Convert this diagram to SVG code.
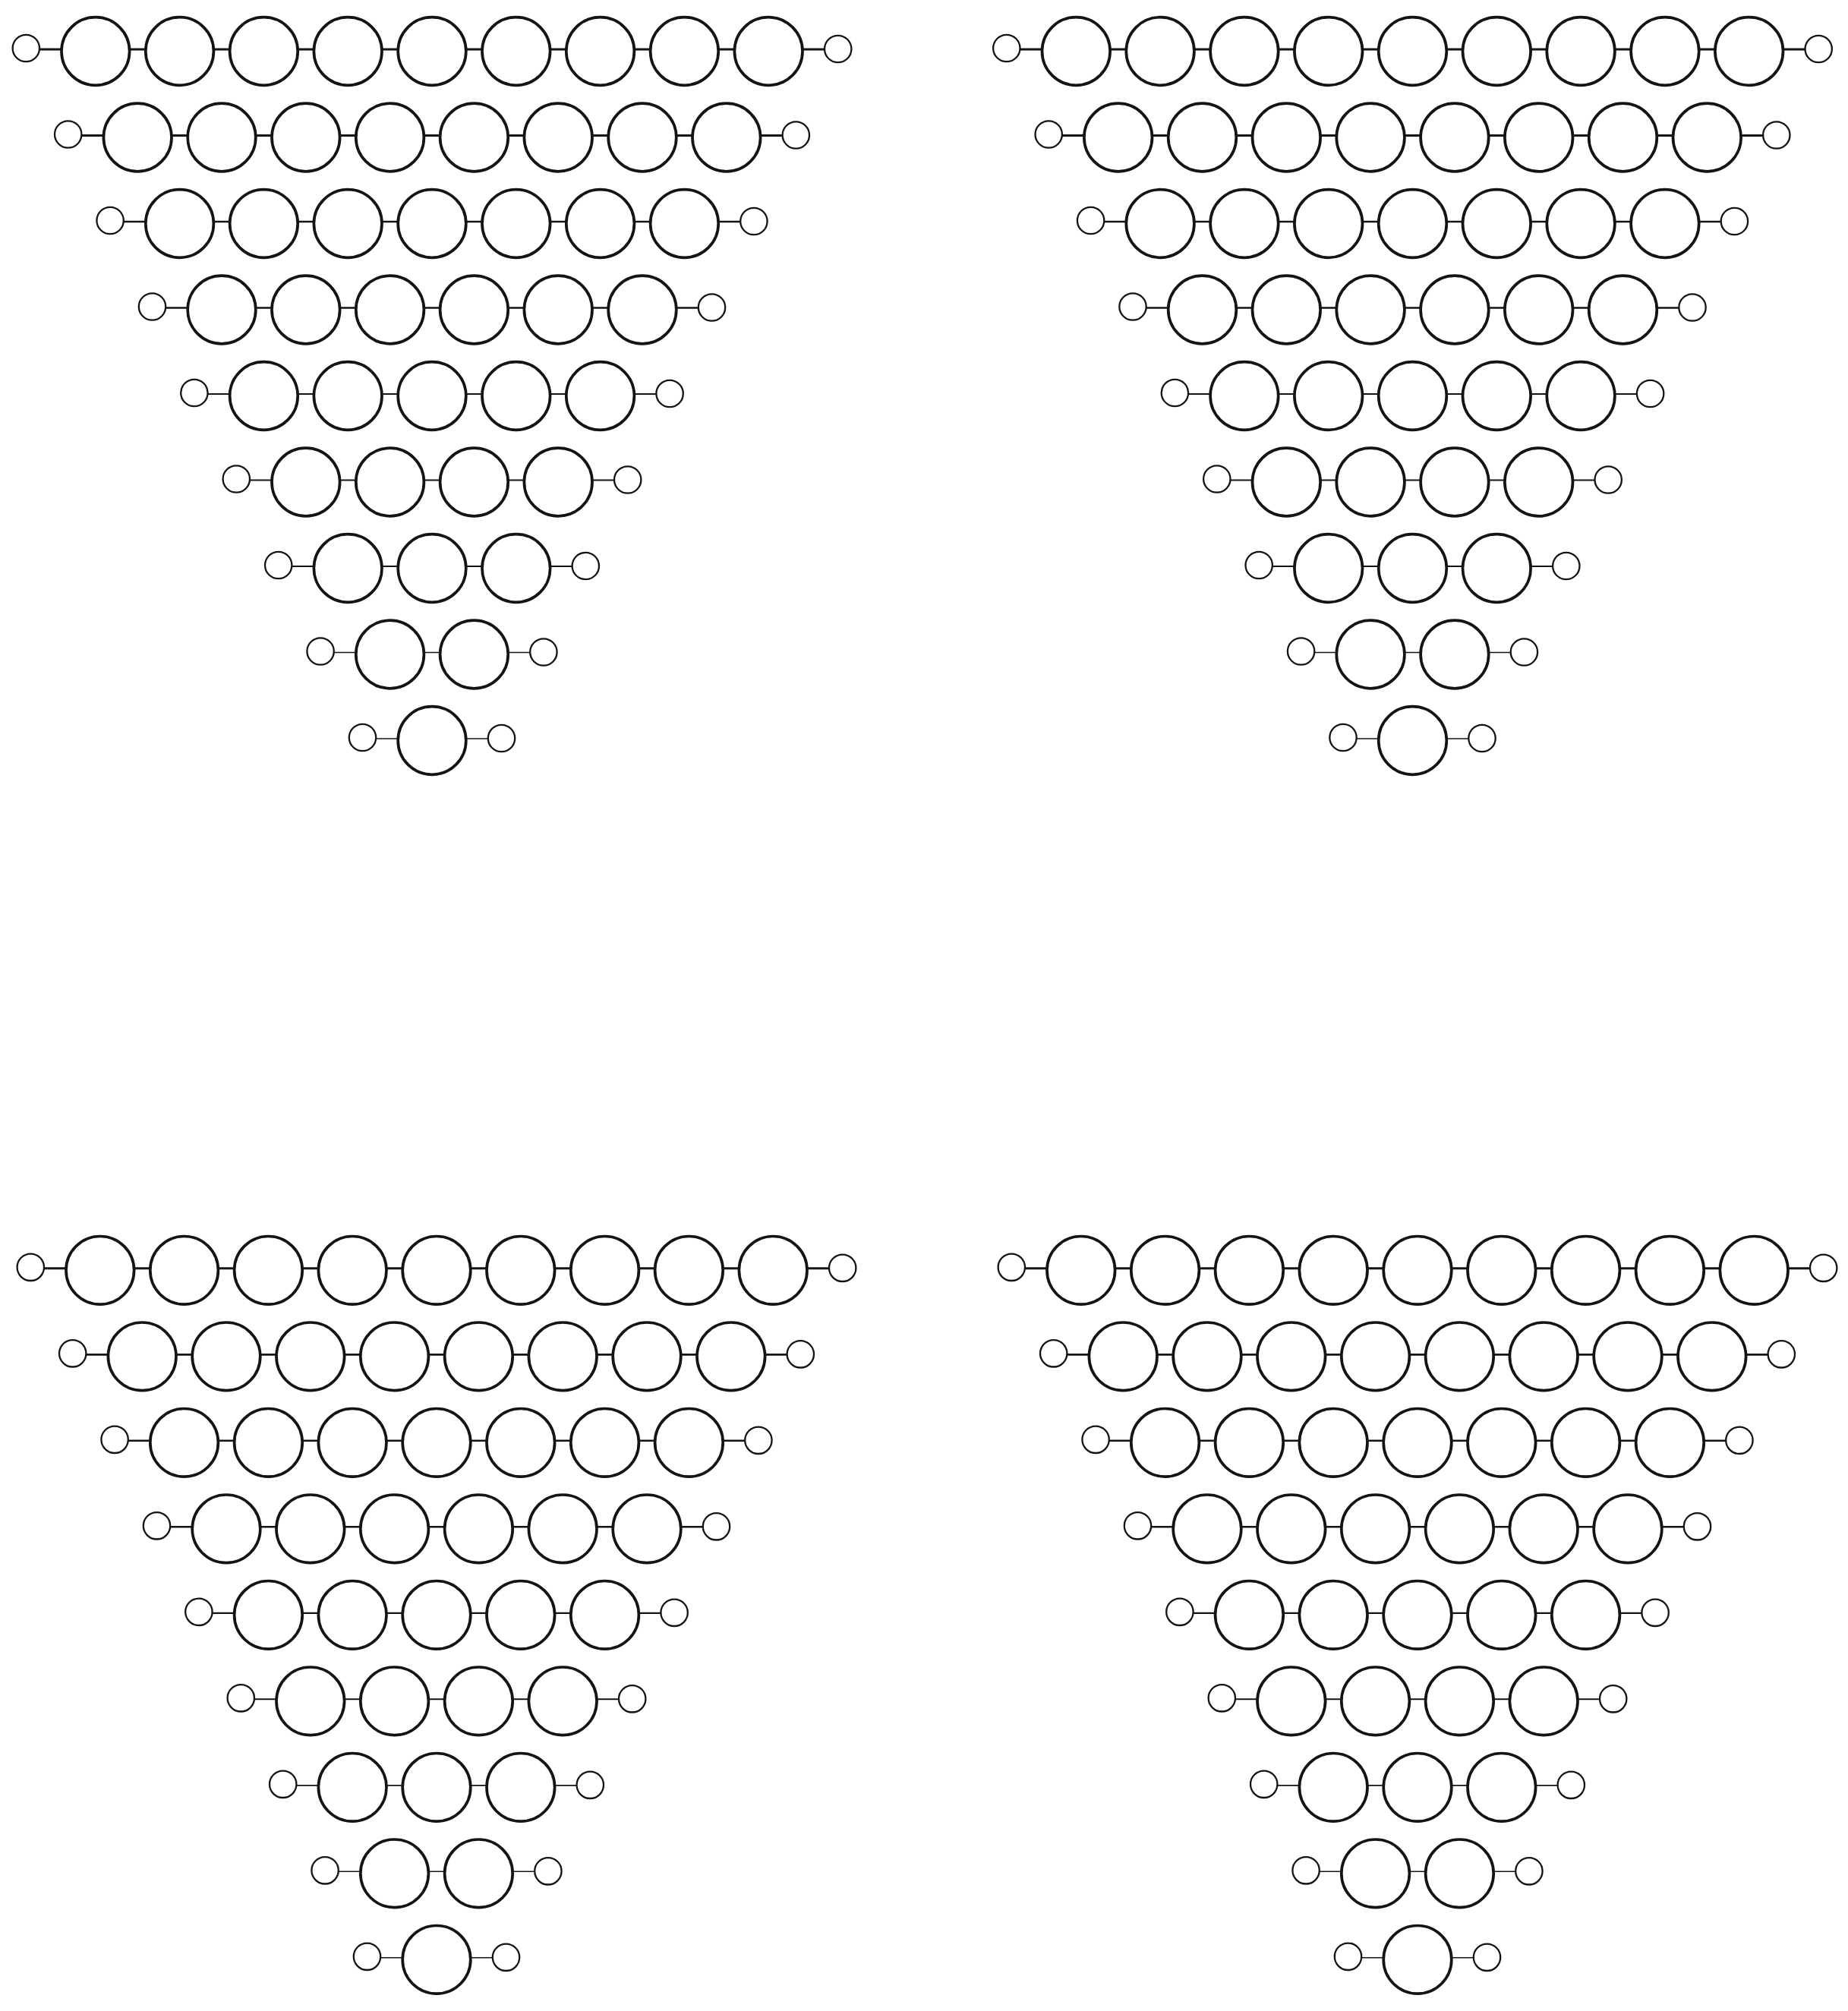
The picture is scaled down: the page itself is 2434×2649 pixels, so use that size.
<svg xmlns="http://www.w3.org/2000/svg" width="2434" height="2649" viewBox="0 0 2434 2649">
<style>
.b{fill:#fff;stroke:#141414;stroke-width:3.7}
.s{fill:#fff;stroke:#141414;stroke-width:2.3}
.c path{fill:none;stroke:#141414}
</style>
<rect width="2434" height="2649" fill="#fff"/>
<g id="connectors" class="c">
<g id="a-edges">
<path stroke-width="3" d="M52,65 h28.8 m90,0 h20.8 m90,0 h20.8 m90,0 h20.8 m90,0 h20.8 m90,0 h20.8 m90,0 h20.8 m90,0 h20.8 m90,0 h20.8 m90,0 h28.8"/>
<path stroke-width="2.8" d="M107.4,178.5 h28.8 m90,0 h20.8 m90,0 h20.8 m90,0 h20.8 m90,0 h20.8 m90,0 h20.8 m90,0 h20.8 m90,0 h20.8 m90,0 h28.8"/>
<path stroke-width="2.6" d="M162.8,292 h28.8 m90,0 h20.8 m90,0 h20.8 m90,0 h20.8 m90,0 h20.8 m90,0 h20.8 m90,0 h20.8 m90,0 h28.8"/>
<path stroke-width="2.4" d="M218.2,405.5 h28.8 m90,0 h20.8 m90,0 h20.8 m90,0 h20.8 m90,0 h20.8 m90,0 h20.8 m90,0 h28.8"/>
<path stroke-width="2.2" d="M273.6,519 h28.8 m90,0 h20.8 m90,0 h20.8 m90,0 h20.8 m90,0 h20.8 m90,0 h28.8"/>
<path stroke-width="2" d="M329,632.5 h28.8 m90,0 h20.8 m90,0 h20.8 m90,0 h20.8 m90,0 h28.8"/>
<path stroke-width="1.8" d="M384.4,746 h28.8 m90,0 h20.8 m90,0 h20.8 m90,0 h28.8"/>
<path stroke-width="1.6" d="M439.8,859.5 h28.8 m90,0 h20.8 m90,0 h28.8"/>
<path stroke-width="1.4" d="M495.2,973 h28.8 m90,0 h28.8"/>
</g>
<use href="#a-edges" transform="translate(1291.5,0)"/>
<use href="#a-edges" transform="translate(6,1605.8)"/>
<use href="#a-edges" transform="translate(1298,1605.8)"/>
</g>
<g id="quadrant-a">
<g id="a-r0-L"><circle class="s" cx="34.3" cy="63.5" r="17.7"/></g>
<g id="a-r0-1"><circle class="b" cx="125.8" cy="67.5" r="44.8"/></g>
<g id="a-r0-2"><circle class="b" cx="236.6" cy="67.5" r="44.8"/></g>
<g id="a-r0-3"><circle class="b" cx="347.4" cy="67.5" r="44.8"/></g>
<g id="a-r0-4"><circle class="b" cx="458.2" cy="67.5" r="44.8"/></g>
<g id="a-r0-5"><circle class="b" cx="569" cy="67.5" r="44.8"/></g>
<g id="a-r0-6"><circle class="b" cx="679.8" cy="67.5" r="44.8"/></g>
<g id="a-r0-7"><circle class="b" cx="790.6" cy="67.5" r="44.8"/></g>
<g id="a-r0-8"><circle class="b" cx="901.4" cy="67.5" r="44.8"/></g>
<g id="a-r0-9"><circle class="b" cx="1012.2" cy="67.5" r="44.8"/></g>
<g id="a-r0-R"><circle class="s" cx="1103.7" cy="64.5" r="17.7"/></g>
<g id="a-r1-L"><circle class="s" cx="89.7" cy="177" r="17.7"/></g>
<g id="a-r1-1"><circle class="b" cx="181.2" cy="181" r="44.8"/></g>
<g id="a-r1-2"><circle class="b" cx="292" cy="181" r="44.8"/></g>
<g id="a-r1-3"><circle class="b" cx="402.8" cy="181" r="44.8"/></g>
<g id="a-r1-4"><circle class="b" cx="513.6" cy="181" r="44.8"/></g>
<g id="a-r1-5"><circle class="b" cx="624.4" cy="181" r="44.8"/></g>
<g id="a-r1-6"><circle class="b" cx="735.2" cy="181" r="44.8"/></g>
<g id="a-r1-7"><circle class="b" cx="846" cy="181" r="44.8"/></g>
<g id="a-r1-8"><circle class="b" cx="956.8" cy="181" r="44.8"/></g>
<g id="a-r1-R"><circle class="s" cx="1048.3" cy="178" r="17.7"/></g>
<g id="a-r2-L"><circle class="s" cx="145.1" cy="290.5" r="17.7"/></g>
<g id="a-r2-1"><circle class="b" cx="236.6" cy="294.5" r="44.8"/></g>
<g id="a-r2-2"><circle class="b" cx="347.4" cy="294.5" r="44.8"/></g>
<g id="a-r2-3"><circle class="b" cx="458.2" cy="294.5" r="44.8"/></g>
<g id="a-r2-4"><circle class="b" cx="569" cy="294.5" r="44.8"/></g>
<g id="a-r2-5"><circle class="b" cx="679.8" cy="294.5" r="44.8"/></g>
<g id="a-r2-6"><circle class="b" cx="790.6" cy="294.5" r="44.8"/></g>
<g id="a-r2-7"><circle class="b" cx="901.4" cy="294.5" r="44.8"/></g>
<g id="a-r2-R"><circle class="s" cx="992.9" cy="291.5" r="17.7"/></g>
<g id="a-r3-L"><circle class="s" cx="200.5" cy="404" r="17.7"/></g>
<g id="a-r3-1"><circle class="b" cx="292" cy="408" r="44.8"/></g>
<g id="a-r3-2"><circle class="b" cx="402.8" cy="408" r="44.8"/></g>
<g id="a-r3-3"><circle class="b" cx="513.6" cy="408" r="44.8"/></g>
<g id="a-r3-4"><circle class="b" cx="624.4" cy="408" r="44.8"/></g>
<g id="a-r3-5"><circle class="b" cx="735.2" cy="408" r="44.8"/></g>
<g id="a-r3-6"><circle class="b" cx="846" cy="408" r="44.8"/></g>
<g id="a-r3-R"><circle class="s" cx="937.5" cy="405" r="17.7"/></g>
<g id="a-r4-L"><circle class="s" cx="255.9" cy="517.5" r="17.7"/></g>
<g id="a-r4-1"><circle class="b" cx="347.4" cy="521.5" r="44.8"/></g>
<g id="a-r4-2"><circle class="b" cx="458.2" cy="521.5" r="44.8"/></g>
<g id="a-r4-3"><circle class="b" cx="569" cy="521.5" r="44.8"/></g>
<g id="a-r4-4"><circle class="b" cx="679.8" cy="521.5" r="44.8"/></g>
<g id="a-r4-5"><circle class="b" cx="790.6" cy="521.5" r="44.8"/></g>
<g id="a-r4-R"><circle class="s" cx="882.1" cy="518.5" r="17.7"/></g>
<g id="a-r5-L"><circle class="s" cx="311.3" cy="631" r="17.7"/></g>
<g id="a-r5-1"><circle class="b" cx="402.8" cy="635" r="44.8"/></g>
<g id="a-r5-2"><circle class="b" cx="513.6" cy="635" r="44.8"/></g>
<g id="a-r5-3"><circle class="b" cx="624.4" cy="635" r="44.8"/></g>
<g id="a-r5-4"><circle class="b" cx="735.2" cy="635" r="44.8"/></g>
<g id="a-r5-R"><circle class="s" cx="826.7" cy="632" r="17.7"/></g>
<g id="a-r6-L"><circle class="s" cx="366.7" cy="744.5" r="17.7"/></g>
<g id="a-r6-1"><circle class="b" cx="458.2" cy="748.5" r="44.8"/></g>
<g id="a-r6-2"><circle class="b" cx="569" cy="748.5" r="44.8"/></g>
<g id="a-r6-3"><circle class="b" cx="679.8" cy="748.5" r="44.8"/></g>
<g id="a-r6-R"><circle class="s" cx="771.3" cy="745.5" r="17.7"/></g>
<g id="a-r7-L"><circle class="s" cx="422.1" cy="858" r="17.7"/></g>
<g id="a-r7-1"><circle class="b" cx="513.6" cy="862" r="44.8"/></g>
<g id="a-r7-2"><circle class="b" cx="624.4" cy="862" r="44.8"/></g>
<g id="a-r7-R"><circle class="s" cx="715.9" cy="859" r="17.7"/></g>
<g id="a-r8-L"><circle class="s" cx="477.5" cy="971.5" r="17.7"/></g>
<g id="a-r8-1"><circle class="b" cx="569" cy="975.5" r="44.8"/></g>
<g id="a-r8-R"><circle class="s" cx="660.5" cy="972.5" r="17.7"/></g>
</g>
<g id="quadrant-b" transform="translate(1291.5,0)">
<g id="b-r0-L"><circle class="s" cx="34.3" cy="63.5" r="17.7"/></g>
<g id="b-r0-1"><circle class="b" cx="125.8" cy="67.5" r="44.8"/></g>
<g id="b-r0-2"><circle class="b" cx="236.6" cy="67.5" r="44.8"/></g>
<g id="b-r0-3"><circle class="b" cx="347.4" cy="67.5" r="44.8"/></g>
<g id="b-r0-4"><circle class="b" cx="458.2" cy="67.5" r="44.8"/></g>
<g id="b-r0-5"><circle class="b" cx="569" cy="67.5" r="44.8"/></g>
<g id="b-r0-6"><circle class="b" cx="679.8" cy="67.5" r="44.8"/></g>
<g id="b-r0-7"><circle class="b" cx="790.6" cy="67.5" r="44.8"/></g>
<g id="b-r0-8"><circle class="b" cx="901.4" cy="67.5" r="44.8"/></g>
<g id="b-r0-9"><circle class="b" cx="1012.2" cy="67.5" r="44.8"/></g>
<g id="b-r0-R"><circle class="s" cx="1103.7" cy="64.5" r="17.7"/></g>
<g id="b-r1-L"><circle class="s" cx="89.7" cy="177" r="17.7"/></g>
<g id="b-r1-1"><circle class="b" cx="181.2" cy="181" r="44.8"/></g>
<g id="b-r1-2"><circle class="b" cx="292" cy="181" r="44.8"/></g>
<g id="b-r1-3"><circle class="b" cx="402.8" cy="181" r="44.8"/></g>
<g id="b-r1-4"><circle class="b" cx="513.6" cy="181" r="44.8"/></g>
<g id="b-r1-5"><circle class="b" cx="624.4" cy="181" r="44.8"/></g>
<g id="b-r1-6"><circle class="b" cx="735.2" cy="181" r="44.8"/></g>
<g id="b-r1-7"><circle class="b" cx="846" cy="181" r="44.8"/></g>
<g id="b-r1-8"><circle class="b" cx="956.8" cy="181" r="44.8"/></g>
<g id="b-r1-R"><circle class="s" cx="1048.3" cy="178" r="17.7"/></g>
<g id="b-r2-L"><circle class="s" cx="145.1" cy="290.5" r="17.7"/></g>
<g id="b-r2-1"><circle class="b" cx="236.6" cy="294.5" r="44.8"/></g>
<g id="b-r2-2"><circle class="b" cx="347.4" cy="294.5" r="44.8"/></g>
<g id="b-r2-3"><circle class="b" cx="458.2" cy="294.5" r="44.8"/></g>
<g id="b-r2-4"><circle class="b" cx="569" cy="294.5" r="44.8"/></g>
<g id="b-r2-5"><circle class="b" cx="679.8" cy="294.5" r="44.8"/></g>
<g id="b-r2-6"><circle class="b" cx="790.6" cy="294.5" r="44.8"/></g>
<g id="b-r2-7"><circle class="b" cx="901.4" cy="294.5" r="44.8"/></g>
<g id="b-r2-R"><circle class="s" cx="992.9" cy="291.5" r="17.7"/></g>
<g id="b-r3-L"><circle class="s" cx="200.5" cy="404" r="17.7"/></g>
<g id="b-r3-1"><circle class="b" cx="292" cy="408" r="44.8"/></g>
<g id="b-r3-2"><circle class="b" cx="402.8" cy="408" r="44.8"/></g>
<g id="b-r3-3"><circle class="b" cx="513.6" cy="408" r="44.8"/></g>
<g id="b-r3-4"><circle class="b" cx="624.4" cy="408" r="44.8"/></g>
<g id="b-r3-5"><circle class="b" cx="735.2" cy="408" r="44.8"/></g>
<g id="b-r3-6"><circle class="b" cx="846" cy="408" r="44.8"/></g>
<g id="b-r3-R"><circle class="s" cx="937.5" cy="405" r="17.7"/></g>
<g id="b-r4-L"><circle class="s" cx="255.9" cy="517.5" r="17.7"/></g>
<g id="b-r4-1"><circle class="b" cx="347.4" cy="521.5" r="44.8"/></g>
<g id="b-r4-2"><circle class="b" cx="458.2" cy="521.5" r="44.8"/></g>
<g id="b-r4-3"><circle class="b" cx="569" cy="521.5" r="44.8"/></g>
<g id="b-r4-4"><circle class="b" cx="679.8" cy="521.5" r="44.8"/></g>
<g id="b-r4-5"><circle class="b" cx="790.6" cy="521.5" r="44.8"/></g>
<g id="b-r4-R"><circle class="s" cx="882.1" cy="518.5" r="17.7"/></g>
<g id="b-r5-L"><circle class="s" cx="311.3" cy="631" r="17.7"/></g>
<g id="b-r5-1"><circle class="b" cx="402.8" cy="635" r="44.8"/></g>
<g id="b-r5-2"><circle class="b" cx="513.6" cy="635" r="44.8"/></g>
<g id="b-r5-3"><circle class="b" cx="624.4" cy="635" r="44.8"/></g>
<g id="b-r5-4"><circle class="b" cx="735.2" cy="635" r="44.8"/></g>
<g id="b-r5-R"><circle class="s" cx="826.7" cy="632" r="17.7"/></g>
<g id="b-r6-L"><circle class="s" cx="366.7" cy="744.5" r="17.7"/></g>
<g id="b-r6-1"><circle class="b" cx="458.2" cy="748.5" r="44.8"/></g>
<g id="b-r6-2"><circle class="b" cx="569" cy="748.5" r="44.8"/></g>
<g id="b-r6-3"><circle class="b" cx="679.8" cy="748.5" r="44.8"/></g>
<g id="b-r6-R"><circle class="s" cx="771.3" cy="745.5" r="17.7"/></g>
<g id="b-r7-L"><circle class="s" cx="422.1" cy="858" r="17.7"/></g>
<g id="b-r7-1"><circle class="b" cx="513.6" cy="862" r="44.8"/></g>
<g id="b-r7-2"><circle class="b" cx="624.4" cy="862" r="44.8"/></g>
<g id="b-r7-R"><circle class="s" cx="715.9" cy="859" r="17.7"/></g>
<g id="b-r8-L"><circle class="s" cx="477.5" cy="971.5" r="17.7"/></g>
<g id="b-r8-1"><circle class="b" cx="569" cy="975.5" r="44.8"/></g>
<g id="b-r8-R"><circle class="s" cx="660.5" cy="972.5" r="17.7"/></g>
</g>
<g id="quadrant-c" transform="translate(6,1605.8)">
<g id="c-r0-L"><circle class="s" cx="34.3" cy="63.5" r="17.7"/></g>
<g id="c-r0-1"><circle class="b" cx="125.8" cy="67.5" r="44.8"/></g>
<g id="c-r0-2"><circle class="b" cx="236.6" cy="67.5" r="44.8"/></g>
<g id="c-r0-3"><circle class="b" cx="347.4" cy="67.5" r="44.8"/></g>
<g id="c-r0-4"><circle class="b" cx="458.2" cy="67.5" r="44.8"/></g>
<g id="c-r0-5"><circle class="b" cx="569" cy="67.5" r="44.8"/></g>
<g id="c-r0-6"><circle class="b" cx="679.8" cy="67.5" r="44.8"/></g>
<g id="c-r0-7"><circle class="b" cx="790.6" cy="67.5" r="44.8"/></g>
<g id="c-r0-8"><circle class="b" cx="901.4" cy="67.5" r="44.8"/></g>
<g id="c-r0-9"><circle class="b" cx="1012.2" cy="67.5" r="44.8"/></g>
<g id="c-r0-R"><circle class="s" cx="1103.7" cy="64.5" r="17.7"/></g>
<g id="c-r1-L"><circle class="s" cx="89.7" cy="177" r="17.7"/></g>
<g id="c-r1-1"><circle class="b" cx="181.2" cy="181" r="44.8"/></g>
<g id="c-r1-2"><circle class="b" cx="292" cy="181" r="44.8"/></g>
<g id="c-r1-3"><circle class="b" cx="402.8" cy="181" r="44.8"/></g>
<g id="c-r1-4"><circle class="b" cx="513.6" cy="181" r="44.8"/></g>
<g id="c-r1-5"><circle class="b" cx="624.4" cy="181" r="44.8"/></g>
<g id="c-r1-6"><circle class="b" cx="735.2" cy="181" r="44.8"/></g>
<g id="c-r1-7"><circle class="b" cx="846" cy="181" r="44.8"/></g>
<g id="c-r1-8"><circle class="b" cx="956.8" cy="181" r="44.8"/></g>
<g id="c-r1-R"><circle class="s" cx="1048.3" cy="178" r="17.7"/></g>
<g id="c-r2-L"><circle class="s" cx="145.1" cy="290.5" r="17.7"/></g>
<g id="c-r2-1"><circle class="b" cx="236.6" cy="294.5" r="44.8"/></g>
<g id="c-r2-2"><circle class="b" cx="347.4" cy="294.5" r="44.8"/></g>
<g id="c-r2-3"><circle class="b" cx="458.2" cy="294.5" r="44.8"/></g>
<g id="c-r2-4"><circle class="b" cx="569" cy="294.5" r="44.8"/></g>
<g id="c-r2-5"><circle class="b" cx="679.8" cy="294.5" r="44.8"/></g>
<g id="c-r2-6"><circle class="b" cx="790.6" cy="294.5" r="44.8"/></g>
<g id="c-r2-7"><circle class="b" cx="901.4" cy="294.5" r="44.8"/></g>
<g id="c-r2-R"><circle class="s" cx="992.9" cy="291.5" r="17.7"/></g>
<g id="c-r3-L"><circle class="s" cx="200.5" cy="404" r="17.7"/></g>
<g id="c-r3-1"><circle class="b" cx="292" cy="408" r="44.8"/></g>
<g id="c-r3-2"><circle class="b" cx="402.8" cy="408" r="44.8"/></g>
<g id="c-r3-3"><circle class="b" cx="513.6" cy="408" r="44.8"/></g>
<g id="c-r3-4"><circle class="b" cx="624.4" cy="408" r="44.8"/></g>
<g id="c-r3-5"><circle class="b" cx="735.2" cy="408" r="44.8"/></g>
<g id="c-r3-6"><circle class="b" cx="846" cy="408" r="44.8"/></g>
<g id="c-r3-R"><circle class="s" cx="937.5" cy="405" r="17.7"/></g>
<g id="c-r4-L"><circle class="s" cx="255.9" cy="517.5" r="17.7"/></g>
<g id="c-r4-1"><circle class="b" cx="347.4" cy="521.5" r="44.8"/></g>
<g id="c-r4-2"><circle class="b" cx="458.2" cy="521.5" r="44.8"/></g>
<g id="c-r4-3"><circle class="b" cx="569" cy="521.5" r="44.8"/></g>
<g id="c-r4-4"><circle class="b" cx="679.8" cy="521.5" r="44.8"/></g>
<g id="c-r4-5"><circle class="b" cx="790.6" cy="521.5" r="44.8"/></g>
<g id="c-r4-R"><circle class="s" cx="882.1" cy="518.5" r="17.7"/></g>
<g id="c-r5-L"><circle class="s" cx="311.3" cy="631" r="17.7"/></g>
<g id="c-r5-1"><circle class="b" cx="402.8" cy="635" r="44.8"/></g>
<g id="c-r5-2"><circle class="b" cx="513.6" cy="635" r="44.8"/></g>
<g id="c-r5-3"><circle class="b" cx="624.4" cy="635" r="44.8"/></g>
<g id="c-r5-4"><circle class="b" cx="735.2" cy="635" r="44.8"/></g>
<g id="c-r5-R"><circle class="s" cx="826.7" cy="632" r="17.7"/></g>
<g id="c-r6-L"><circle class="s" cx="366.7" cy="744.5" r="17.7"/></g>
<g id="c-r6-1"><circle class="b" cx="458.2" cy="748.5" r="44.8"/></g>
<g id="c-r6-2"><circle class="b" cx="569" cy="748.5" r="44.8"/></g>
<g id="c-r6-3"><circle class="b" cx="679.8" cy="748.5" r="44.8"/></g>
<g id="c-r6-R"><circle class="s" cx="771.3" cy="745.5" r="17.7"/></g>
<g id="c-r7-L"><circle class="s" cx="422.1" cy="858" r="17.7"/></g>
<g id="c-r7-1"><circle class="b" cx="513.6" cy="862" r="44.8"/></g>
<g id="c-r7-2"><circle class="b" cx="624.4" cy="862" r="44.8"/></g>
<g id="c-r7-R"><circle class="s" cx="715.9" cy="859" r="17.7"/></g>
<g id="c-r8-L"><circle class="s" cx="477.5" cy="971.5" r="17.7"/></g>
<g id="c-r8-1"><circle class="b" cx="569" cy="975.5" r="44.8"/></g>
<g id="c-r8-R"><circle class="s" cx="660.5" cy="972.5" r="17.7"/></g>
</g>
<g id="quadrant-d" transform="translate(1298,1605.8)">
<g id="d-r0-L"><circle class="s" cx="34.3" cy="63.5" r="17.7"/></g>
<g id="d-r0-1"><circle class="b" cx="125.8" cy="67.5" r="44.8"/></g>
<g id="d-r0-2"><circle class="b" cx="236.6" cy="67.5" r="44.8"/></g>
<g id="d-r0-3"><circle class="b" cx="347.4" cy="67.5" r="44.8"/></g>
<g id="d-r0-4"><circle class="b" cx="458.2" cy="67.5" r="44.8"/></g>
<g id="d-r0-5"><circle class="b" cx="569" cy="67.5" r="44.8"/></g>
<g id="d-r0-6"><circle class="b" cx="679.8" cy="67.5" r="44.8"/></g>
<g id="d-r0-7"><circle class="b" cx="790.6" cy="67.5" r="44.8"/></g>
<g id="d-r0-8"><circle class="b" cx="901.4" cy="67.5" r="44.8"/></g>
<g id="d-r0-9"><circle class="b" cx="1012.2" cy="67.5" r="44.8"/></g>
<g id="d-r0-R"><circle class="s" cx="1103.7" cy="64.5" r="17.7"/></g>
<g id="d-r1-L"><circle class="s" cx="89.7" cy="177" r="17.7"/></g>
<g id="d-r1-1"><circle class="b" cx="181.2" cy="181" r="44.8"/></g>
<g id="d-r1-2"><circle class="b" cx="292" cy="181" r="44.8"/></g>
<g id="d-r1-3"><circle class="b" cx="402.8" cy="181" r="44.8"/></g>
<g id="d-r1-4"><circle class="b" cx="513.6" cy="181" r="44.8"/></g>
<g id="d-r1-5"><circle class="b" cx="624.4" cy="181" r="44.8"/></g>
<g id="d-r1-6"><circle class="b" cx="735.2" cy="181" r="44.8"/></g>
<g id="d-r1-7"><circle class="b" cx="846" cy="181" r="44.8"/></g>
<g id="d-r1-8"><circle class="b" cx="956.8" cy="181" r="44.8"/></g>
<g id="d-r1-R"><circle class="s" cx="1048.3" cy="178" r="17.7"/></g>
<g id="d-r2-L"><circle class="s" cx="145.1" cy="290.5" r="17.7"/></g>
<g id="d-r2-1"><circle class="b" cx="236.6" cy="294.5" r="44.8"/></g>
<g id="d-r2-2"><circle class="b" cx="347.4" cy="294.5" r="44.8"/></g>
<g id="d-r2-3"><circle class="b" cx="458.2" cy="294.5" r="44.8"/></g>
<g id="d-r2-4"><circle class="b" cx="569" cy="294.5" r="44.8"/></g>
<g id="d-r2-5"><circle class="b" cx="679.8" cy="294.5" r="44.8"/></g>
<g id="d-r2-6"><circle class="b" cx="790.6" cy="294.5" r="44.8"/></g>
<g id="d-r2-7"><circle class="b" cx="901.4" cy="294.5" r="44.8"/></g>
<g id="d-r2-R"><circle class="s" cx="992.9" cy="291.5" r="17.7"/></g>
<g id="d-r3-L"><circle class="s" cx="200.5" cy="404" r="17.7"/></g>
<g id="d-r3-1"><circle class="b" cx="292" cy="408" r="44.8"/></g>
<g id="d-r3-2"><circle class="b" cx="402.8" cy="408" r="44.8"/></g>
<g id="d-r3-3"><circle class="b" cx="513.6" cy="408" r="44.8"/></g>
<g id="d-r3-4"><circle class="b" cx="624.4" cy="408" r="44.8"/></g>
<g id="d-r3-5"><circle class="b" cx="735.2" cy="408" r="44.8"/></g>
<g id="d-r3-6"><circle class="b" cx="846" cy="408" r="44.8"/></g>
<g id="d-r3-R"><circle class="s" cx="937.5" cy="405" r="17.7"/></g>
<g id="d-r4-L"><circle class="s" cx="255.9" cy="517.5" r="17.7"/></g>
<g id="d-r4-1"><circle class="b" cx="347.4" cy="521.5" r="44.8"/></g>
<g id="d-r4-2"><circle class="b" cx="458.2" cy="521.5" r="44.8"/></g>
<g id="d-r4-3"><circle class="b" cx="569" cy="521.5" r="44.8"/></g>
<g id="d-r4-4"><circle class="b" cx="679.8" cy="521.5" r="44.8"/></g>
<g id="d-r4-5"><circle class="b" cx="790.6" cy="521.5" r="44.8"/></g>
<g id="d-r4-R"><circle class="s" cx="882.1" cy="518.5" r="17.7"/></g>
<g id="d-r5-L"><circle class="s" cx="311.3" cy="631" r="17.7"/></g>
<g id="d-r5-1"><circle class="b" cx="402.8" cy="635" r="44.8"/></g>
<g id="d-r5-2"><circle class="b" cx="513.6" cy="635" r="44.8"/></g>
<g id="d-r5-3"><circle class="b" cx="624.4" cy="635" r="44.8"/></g>
<g id="d-r5-4"><circle class="b" cx="735.2" cy="635" r="44.8"/></g>
<g id="d-r5-R"><circle class="s" cx="826.7" cy="632" r="17.7"/></g>
<g id="d-r6-L"><circle class="s" cx="366.7" cy="744.5" r="17.7"/></g>
<g id="d-r6-1"><circle class="b" cx="458.2" cy="748.5" r="44.8"/></g>
<g id="d-r6-2"><circle class="b" cx="569" cy="748.5" r="44.8"/></g>
<g id="d-r6-3"><circle class="b" cx="679.8" cy="748.5" r="44.8"/></g>
<g id="d-r6-R"><circle class="s" cx="771.3" cy="745.5" r="17.7"/></g>
<g id="d-r7-L"><circle class="s" cx="422.1" cy="858" r="17.7"/></g>
<g id="d-r7-1"><circle class="b" cx="513.6" cy="862" r="44.8"/></g>
<g id="d-r7-2"><circle class="b" cx="624.4" cy="862" r="44.8"/></g>
<g id="d-r7-R"><circle class="s" cx="715.9" cy="859" r="17.7"/></g>
<g id="d-r8-L"><circle class="s" cx="477.5" cy="971.5" r="17.7"/></g>
<g id="d-r8-1"><circle class="b" cx="569" cy="975.5" r="44.8"/></g>
<g id="d-r8-R"><circle class="s" cx="660.5" cy="972.5" r="17.7"/></g>
</g>
</svg>
